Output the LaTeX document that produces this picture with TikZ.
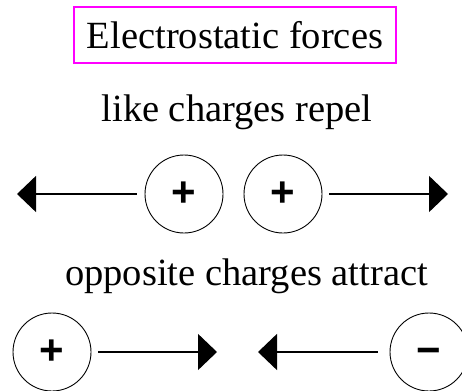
\documentclass[tikz,border=0pt]{standalone}
\usepackage{fontspec}
\setmainfont{Liberation Serif}
\newfontfamily\signfont{Liberation Sans}
\usetikzlibrary{arrows.meta}

\definecolor{boxpink}{RGB}{255,0,255}
\tikzset{
  charge/.style={draw,circle,minimum size=78pt,inner sep=0pt,line width=0.9pt,
    font=\signfont\bfseries\fontsize{42}{42}\selectfont},
  force/.style={line width=1.4pt,-{Triangle[length=19pt,width=36pt]}},
  words/.style={font=\fontsize{38.5}{40}\selectfont,inner sep=0pt}
}

\begin{document}
\begin{tikzpicture}[x=1pt,y=-1pt]
    \useasboundingbox (0,0) rectangle (462,390);
    % title
    \node[words,draw=boxpink,line width=1.3pt,minimum width=322pt,minimum height=56pt] (title) at (235,35) {Electrostatic forces};
    % like charges
    \node[words,anchor=base] (like) at (237,122) {like charges repel};
    \node[charge] (p1) at (184,194) {+};
    \node[charge] (p2) at (283,194) {+};
    \coordinate (l1) at (17,194);
    \coordinate (r1) at (448,194);
    \draw[force,shorten <=8pt] (p1) -- (l1);
    \draw[force,shorten <=7pt] (p2) -- (r1);
    % opposite charges
    \node[words,anchor=base] (opp) at (246.5,285) {opposite charges attract};
    \node[charge] (p3) at (52,352) {+};
    \node[charge] (n1) at (429,352) {\vphantom{+}\symbol{"2212}};
    \coordinate (m1) at (217,352);
    \coordinate (m2) at (258,352);
    \draw[force,shorten <=7pt] (p3) -- (m1);
    \draw[force,shorten <=12pt] (n1) -- (m2);
\end{tikzpicture}
\end{document}
